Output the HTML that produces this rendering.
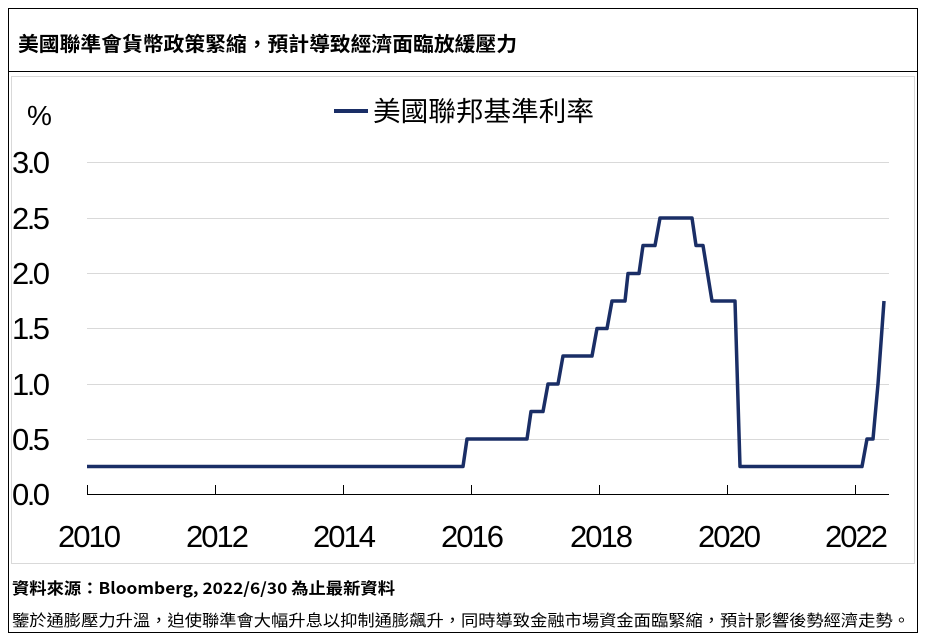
<!DOCTYPE html><html><head><meta charset="utf-8"><style>
body{margin:0;width:929px;height:641px;background:#fff;overflow:hidden;font-family:"Liberation Sans","Noto Sans CJK TC",sans-serif}
</style></head><body>
<svg width="929" height="641" xmlns="http://www.w3.org/2000/svg" style="position:absolute;left:0;top:0">
<rect x="8.5" y="8.5" width="909" height="624" fill="none" stroke="#000" stroke-width="1"/>
<line x1="8" y1="71.5" x2="918" y2="71.5" stroke="#000"/>
<rect x="11.5" y="76.5" width="903" height="487" fill="none" stroke="#d9d9d9"/>
<text x="18" y="51" font-size="20" font-weight="bold" font-family="Noto Sans CJK TC,sans-serif" textLength="499" lengthAdjust="spacingAndGlyphs">美國聯準會貨幣政策緊縮，預計導致經濟面臨放緩壓力</text>
<g stroke="#d9d9d9" stroke-width="1">
<line x1="87" x2="889" y1="162.5" y2="162.5"/><line x1="87" x2="889" y1="218.5" y2="218.5"/><line x1="87" x2="889" y1="273.5" y2="273.5"/><line x1="87" x2="889" y1="328.5" y2="328.5"/><line x1="87" x2="889" y1="384.5" y2="384.5"/><line x1="87" x2="889" y1="439.5" y2="439.5"/>
</g>
<line x1="87" x2="889" y1="494.5" y2="494.5" stroke="#000"/>
<g stroke="#000"><line x1="87.5" x2="87.5" y1="485" y2="494"/><line x1="215.5" x2="215.5" y1="485" y2="494"/><line x1="343.5" x2="343.5" y1="485" y2="494"/><line x1="471.5" x2="471.5" y1="485" y2="494"/><line x1="599.5" x2="599.5" y1="485" y2="494"/><line x1="727.5" x2="727.5" y1="485" y2="494"/><line x1="855.5" x2="855.5" y1="485" y2="494"/></g>
<g font-size="31" fill="#000" lengthAdjust="spacingAndGlyphs">
<text x="27" y="125" font-size="28" textLength="24">%</text>
<text x="12" y="173" textLength="38">3.0</text><text x="12" y="229" textLength="38">2.5</text><text x="12" y="284" textLength="38">2.0</text><text x="12" y="339" textLength="38">1.5</text><text x="12" y="395" textLength="38">1.0</text><text x="12" y="450" textLength="38">0.5</text><text x="12" y="505" textLength="38">0.0</text>
<text x="58" y="547" textLength="63">2010</text><text x="186" y="547" textLength="63">2012</text><text x="313" y="547" textLength="63">2014</text><text x="441" y="547" textLength="63">2016</text><text x="570" y="547" textLength="63">2018</text><text x="698" y="547" textLength="63">2020</text><text x="825" y="547" textLength="63">2022</text>
</g>
<line x1="334" x2="368" y1="111" y2="111" stroke="#1a2e66" stroke-width="4"/>
<text x="373" y="121" font-size="27" font-family="Noto Sans CJK TC,sans-serif" textLength="221" lengthAdjust="spacingAndGlyphs">美國聯邦基準利率</text>
<polyline fill="none" stroke="#1a2e66" stroke-width="3.5" stroke-linejoin="round" points="87,466.5 463,466.5 467,439 527,439 531,411.5 543,411.5 548,384 558,384 563,356 592,356 597,328.5 607,328.5 612,301 625,301 628,273.5 639,273.5 643,245.5 655,245.5 660,218 692,218 696,245.5 703,245.5 712,301 735,301 740,466.5 862,466.5 867,439 873,439 878,384 884,301"/>
<text x="12" y="594" font-size="16" font-weight="bold" font-family="Noto Sans CJK TC,sans-serif" textLength="383" lengthAdjust="spacingAndGlyphs">資料來源：Bloomberg, 2022/6/30 為止最新資料</text>
<text x="12" y="626" font-size="16" font-family="Noto Sans CJK TC,sans-serif" textLength="898" lengthAdjust="spacingAndGlyphs">鑒於通膨壓力升溫，迫使聯準會大幅升息以抑制通膨飆升，同時導致金融市場資金面臨緊縮，預計影響後勢經濟走勢。</text>
</svg>
</body></html>
